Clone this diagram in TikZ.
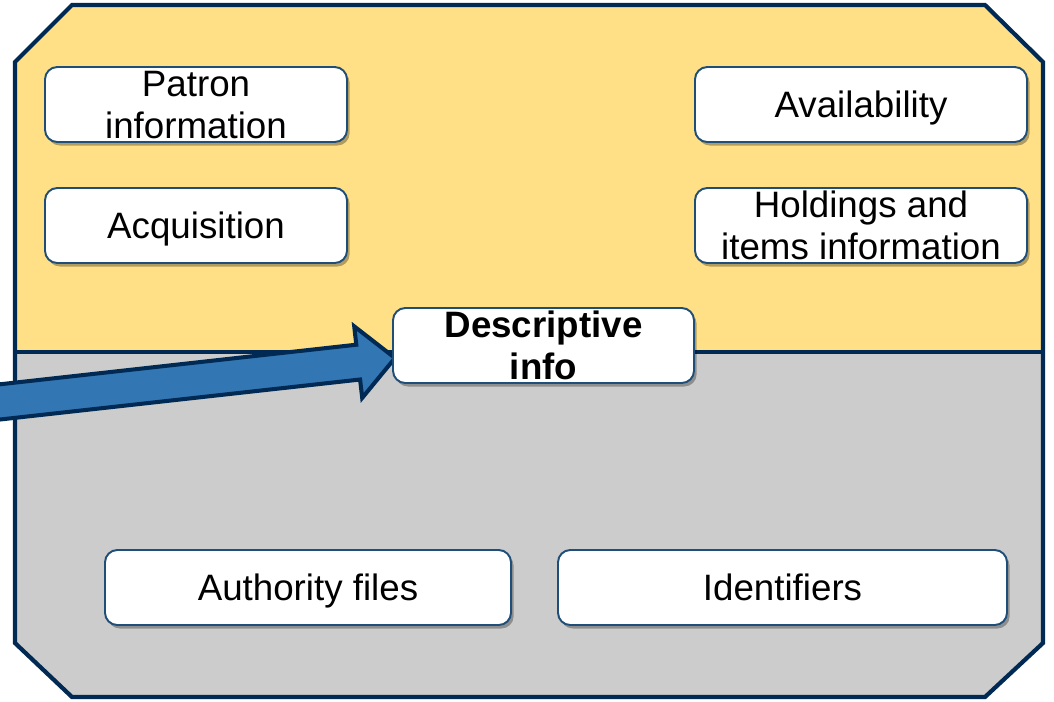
\documentclass[tikz,border=0pt]{standalone}
\usepackage{fontspec}
\setmainfont{Liberation Sans}
\usetikzlibrary{shadows,calc}
\definecolor{panelyellow}{HTML}{FFE086}
\definecolor{panelgray}{HTML}{CCCCCC}
\definecolor{framenavy}{HTML}{002A54}
\definecolor{boxnavy}{HTML}{1F4E79}
\definecolor{arrowblue}{HTML}{3277B3}
\newlength\px
\setlength\px{0.02cm}
\begin{document}
\begin{tikzpicture}[x=0.02cm, y=-0.02cm,
    infobox/.style = {shape = rectangle, draw = boxnavy, line width = 1.1pt, fill = white,
        rounded corners = 7pt, inner sep = 0pt, minimum height = 75\px, align = center,
        text depth = 0pt, font = \fontsize{20.9}{23.8}\selectfont,
        drop shadow = {shadow xshift = 1.5pt, shadow yshift = -2pt, fill = black, opacity = 0.3}},
    frameline/.style = {draw = framenavy, line width = 2.4pt, line join = miter}]
    \useasboundingbox (0,0) rectangle (1054,701);
    \clip (0,0) rectangle (1054,701);
    % panels
    \fill[panelyellow] (72,5) -- (985,5) -- (1043,62) -- (1043,352) -- (15,352) -- (15,62) -- cycle;
    \fill[panelgray] (15,352) -- (1043,352) -- (1043,643) -- (985,697) -- (72,697) -- (15,643) -- cycle;
    \draw[frameline] (72,5) -- (985,5) -- (1043,62) -- (1043,643) -- (985,697) -- (72,697) -- (15,643) -- (15,62) -- cycle;
    \draw[frameline] (15,352) -- (1043,352);
    % arrow
    \coordinate (tip) at (395,358);
    \filldraw[fill = arrowblue, draw = framenavy, line width = 2.3pt, line join = miter]
        (tip) -- ($(tip)+(-40.8,-31.7)$) -- ($(tip)+(-38.7,-13.3)$) -- ($(tip)+(-406.9,27.6)$)
        -- ($(tip)+(-403.1,62.4)$) -- ($(tip)+(-34.9,21.5)$) -- ($(tip)+(-32.8,39.9)$) -- cycle;
    % boxes
    \node[infobox, minimum width = 302\px] (patron) at (196,104.5) {Patron\\information};
    \node[infobox, minimum width = 302\px] (acq) at (196,225.5) {Acquisition};
    \node[infobox, minimum width = 332\px] (avail) at (861,104.5) {Availability};
    \node[infobox, minimum width = 332\px] (hold) at (861,225.5) {Holdings and\\items information};
    \node[infobox, minimum width = 301\px, font = \fontsize{20.9}{23.8}\selectfont\bfseries] (desc) at (543.5,345.5) {Descriptive\\info};
    \node[infobox, minimum width = 406\px] (auth) at (308,587.5) {Authority files};
    \node[infobox, minimum width = 449\px] (ident) at (782.5,587.5) {Identifiers};
\end{tikzpicture}
\end{document}
